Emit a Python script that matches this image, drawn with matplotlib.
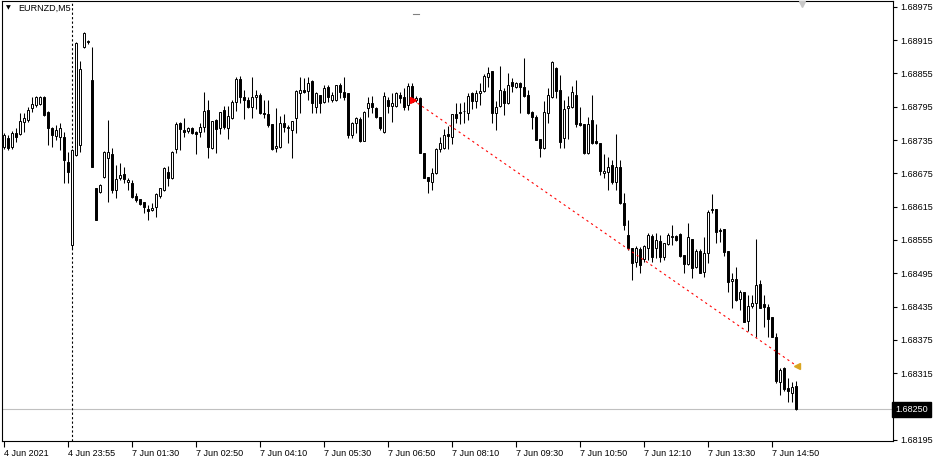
import numpy as np
import matplotlib
matplotlib.use('Agg')
import matplotlib.pyplot as plt
from matplotlib.lines import Line2D

# EURNZD M5, prices in points (1 point = 0.00001)
POINT = 0.00001

open_pts = [
    168722, 168739, 168722, 168748, 168746, 168767, 168771, 168793, 168798, 168800,
    168812, 168785, 168757, 168742, 168740, 168740, 168695, 168546, 168708, 168726,
    168902, 168911, 168843, 168649, 168641, 168668, 168703, 168710, 168645, 168667,
    168674, 168659, 168658, 168634, 168629, 168623, 168611, 168609, 168614, 168634,
    168645, 168677, 168667, 168719, 168766, 168753, 168751, 168757, 168749, 168749,
    168758, 168789, 168721, 168771, 168757, 168789, 168757, 168775, 168803, 168845,
    168812, 168807, 168794, 168812, 168816, 168784, 168782, 168764, 168721, 168722,
    168766, 168757, 168753, 168775, 168820, 168825, 168823, 168841, 168794, 168816,
    168803, 168830, 168807, 168807, 168834, 168821, 168820, 168744, 168766, 168773,
    168733, 168793, 168802, 168793, 168776, 168749, 168807, 168796, 168796, 168816,
    168812, 168798, 168832, 168807, 168811, 168712, 168668, 168659, 168676, 168719,
    168721, 168746, 168740, 168782, 168785, 168787, 168784, 168820, 168805, 168820,
    168823, 168848, 168859, 168784, 168796, 168823, 168802, 168839, 168830, 168838,
    168830, 168816, 168785, 168776, 168737, 168721, 168784, 168812, 168865, 168825,
    168739, 168793, 168794, 168816, 168766, 168764, 168712, 168771, 168733, 168730,
    168676, 168677, 168690, 168659, 168686, 168622, 168564, 168541, 168515, 168539,
    168521, 168541, 168562, 168541, 168553, 168524, 168548, 168560, 168562, 168566,
    168528, 168512, 168557, 168506, 168535, 168497, 168532, 168609, 168611, 168573,
    168575, 168535, 168481, 168485, 168449, 168461, 168409, 168436, 168442, 168476,
    168440, 168434, 168416, 168380, 168299, 168325, 168289, 168280, 168292,
]
high_pts = [
    168748, 168744, 168751, 168757, 168784, 168784, 168794, 168812, 168814, 168814,
    168814, 168787, 168758, 168762, 168766, 168749, 168713, 168719, 168911, 168877,
    168929, 168915, 168902, 168649, 168656, 168715, 168771, 168721, 168690, 168694,
    168686, 168667, 168663, 168640, 168629, 168623, 168618, 168622, 168640, 168649,
    168686, 168688, 168715, 168767, 168767, 168775, 168758, 168758, 168751, 168766,
    168821, 168807, 168769, 168773, 168785, 168796, 168796, 168807, 168848, 168850,
    168825, 168812, 168848, 168825, 168820, 168807, 168807, 168764, 168793, 168778,
    168782, 168762, 168769, 168825, 168848, 168847, 168848, 168843, 168821, 168816,
    168834, 168834, 168821, 168834, 168838, 168848, 168820, 168767, 168776, 168776,
    168787, 168812, 168814, 168794, 168776, 168821, 168812, 168820, 168821, 168821,
    168829, 168838, 168838, 168814, 168812, 168712, 168668, 168685, 168721, 168740,
    168755, 168760, 168782, 168802, 168802, 168803, 168820, 168821, 168825, 168838,
    168854, 168866, 168859, 168805, 168868, 168829, 168856, 168847, 168839, 168839,
    168883, 168825, 168787, 168780, 168737, 168805, 168829, 168877, 168866, 168852,
    168807, 168814, 168832, 168843, 168794, 168764, 168776, 168816, 168764, 168730,
    168710, 168704, 168699, 168746, 168699, 168640, 168591, 168541, 168544, 168542,
    168546, 168568, 168566, 168568, 168564, 168550, 168568, 168582, 168564, 168568,
    168528, 168586, 168557, 168539, 168539, 168560, 168609, 168638, 168611, 168577,
    168575, 168535, 168496, 168506, 168465, 168461, 168456, 168456, 168557, 168483,
    168456, 168440, 168416, 168388, 168325, 168326, 168307, 168299, 168301,
]
low_pts = [
    168719, 168717, 168719, 168731, 168744, 168749, 168767, 168785, 168794, 168798,
    168778, 168726, 168722, 168735, 168717, 168658, 168658, 168539, 168706, 168713,
    168901, 168908, 168686, 168591, 168640, 168667, 168623, 168640, 168631, 168663,
    168658, 168645, 168631, 168623, 168618, 168604, 168591, 168607, 168596, 168631,
    168643, 168652, 168665, 168712, 168717, 168740, 168748, 168746, 168710, 168740,
    168749, 168703, 168719, 168712, 168746, 168755, 168737, 168773, 168787, 168802,
    168773, 168793, 168775, 168791, 168782, 168775, 168758, 168717, 168713, 168721,
    168749, 168730, 168703, 168748, 168784, 168820, 168807, 168784, 168784, 168784,
    168802, 168803, 168803, 168805, 168811, 168807, 168739, 168739, 168748, 168731,
    168733, 168776, 168784, 168775, 168753, 168748, 168784, 168767, 168794, 168802,
    168789, 168789, 168803, 168803, 168712, 168667, 168640, 168645, 168674, 168713,
    168719, 168719, 168728, 168766, 168764, 168766, 168771, 168791, 168793, 168798,
    168821, 168830, 168766, 168753, 168794, 168780, 168800, 168821, 168829, 168784,
    168812, 168782, 168755, 168735, 168704, 168719, 168766, 168811, 168811, 168721,
    168721, 168737, 168793, 168758, 168760, 168710, 168710, 168728, 168728, 168672,
    168667, 168645, 168656, 168645, 168620, 168573, 168537, 168483, 168506, 168496,
    168515, 168519, 168515, 168523, 168515, 168519, 168546, 168546, 168553, 168524,
    168496, 168510, 168487, 168505, 168496, 168488, 168514, 168604, 168550, 168551,
    168526, 168461, 168433, 168445, 168429, 168407, 168391, 168433, 168380, 168433,
    168398, 168380, 168380, 168298, 168276, 168283, 168263, 168263, 168249,
]
close_pts = [
    168744, 168721, 168748, 168740, 168769, 168775, 168789, 168800, 168812, 168812,
    168780, 168757, 168744, 168753, 168757, 168699, 168677, 168717, 168910, 168863,
    168928, 168913, 168686, 168591, 168654, 168713, 168713, 168645, 168665, 168672,
    168665, 168663, 168632, 168627, 168620, 168614, 168607, 168613, 168638, 168649,
    168685, 168667, 168713, 168764, 168755, 168749, 168757, 168748, 168746, 168758,
    168787, 168722, 168769, 168755, 168785, 168758, 168778, 168803, 168845, 168812,
    168807, 168794, 168812, 168816, 168784, 168782, 168762, 168719, 168724, 168766,
    168758, 168758, 168769, 168823, 168825, 168821, 168838, 168802, 168820, 168802,
    168829, 168812, 168816, 168834, 168821, 168812, 168744, 168766, 168775, 168733,
    168785, 168802, 168794, 168776, 168757, 168814, 168796, 168802, 168820, 168811,
    168794, 168832, 168803, 168811, 168712, 168667, 168661, 168676, 168719, 168730,
    168744, 168742, 168782, 168775, 168784, 168788, 168814, 168805, 168820, 168823,
    168850, 168856, 168784, 168794, 168825, 168802, 168834, 168832, 168838, 168830,
    168814, 168784, 168776, 168735, 168721, 168785, 168816, 168875, 168823, 168731,
    168791, 168796, 168821, 168764, 168762, 168712, 168764, 168730, 168730, 168679,
    168679, 168686, 168659, 168686, 168622, 168582, 168541, 168514, 168541, 168510,
    168544, 168564, 168524, 168555, 168524, 168550, 168564, 168562, 168555, 168526,
    168512, 168560, 168505, 168535, 168496, 168532, 168605, 168611, 168569, 168571,
    168533, 168479, 168485, 168447, 168461, 168407, 168436, 168442, 168474, 168433,
    168434, 168413, 168380, 168301, 168321, 168287, 168283, 168290, 168250,
]

time_labels = ['4 Jun 2021', '4 Jun 23:55', '7 Jun 01:30', '7 Jun 02:50', '7 Jun 04:10',
               '7 Jun 05:30', '7 Jun 06:50', '7 Jun 08:10', '7 Jun 09:30', '7 Jun 10:50',
               '7 Jun 12:10', '7 Jun 13:30', '7 Jun 14:50']
label_bars = [0, 16, 32, 48, 64, 80, 96, 112, 128, 144, 160, 176, 192]
price_ticks = [1.68195, 1.68255, 1.68315, 1.68375, 1.68435, 1.68495, 1.68555,
               1.68615, 1.68675, 1.68735, 1.68795, 1.68855, 1.68915, 1.68975]
last_price = 1.68250
day_start_bar = 17
trade_bars = [102.25, 198.25]
trade_prices = [1.68807, 1.68328]

FONT = 'Liberation Sans'
FS = 6.5

o = np.array(open_pts) * POINT
h = np.array(high_pts) * POINT
l = np.array(low_pts) * POINT
c = np.array(close_pts) * POINT
x = np.arange(len(o))

W, H = 938, 457
fig = plt.figure(figsize=(W / 100, H / 100), dpi=100)
ax = fig.add_axes([2 / W, 16 / H, 891 / W, 440 / H])
ax.set_xlim(-0.5, 222.25)
ax.set_ylim(1.681932, 1.689852)

ax.axhline(last_price, color='#c0c0c0', lw=0.8, zorder=1)
ax.axvline(day_start_bar, color='black', ls=(0, (2, 2)), lw=0.8, zorder=1)

ax.vlines(x, l, h, color='black', lw=0.75, zorder=2)
up = c >= o
bottoms = np.minimum(o, c)
heights = np.maximum(np.abs(c - o), 0.3 * POINT)
ax.bar(x, heights, bottom=bottoms, width=0.5,
       color=np.where(up, 'white', 'black'), edgecolor='black', linewidth=0.7, zorder=3)

# trade history line
ax.plot(trade_bars, trade_prices, color='red', ls=(0, (2, 3)), lw=0.8, zorder=4)
ax.plot(trade_bars[0], trade_prices[0], marker='>', color='red', ms=4, zorder=5)
ax.plot(trade_bars[1], trade_prices[1], marker='<', color='#DAA520', ms=5, zorder=5)

for s in ax.spines.values():
    s.set_linewidth(0.8)
    s.set_color('black')

# the tick just above the last price sits under the price box, so its label is left blank
ax.yaxis.tick_right()
ax.set_yticks(price_ticks)
ylabels = ['%.5f' % p if abs(p - last_price) > 0.0001 else '' for p in price_ticks]
ax.set_yticklabels(ylabels, fontsize=FS, family=FONT)
ax.tick_params(axis='y', direction='out', length=3, width=0.8, pad=2)

ax.set_xticks(label_bars)
ax.set_xticklabels(time_labels, fontsize=FS, family=FONT, ha='left')
ax.tick_params(axis='x', direction='out', length=4, width=0.8, pad=2)

ax.text(1 + 2 / 891, last_price, '%.5f' % last_price, transform=ax.get_yaxis_transform(),
        color='white', fontsize=FS, family=FONT, va='center', ha='left', zorder=10, clip_on=False,
        bbox=dict(facecolor='black', edgecolor='black', boxstyle='square,pad=0.35'))

# header
fig.text(6 / W, 1 - 8 / H, '\u25bc', fontsize=4.5, va='center', ha='left')
fig.text(18 / W, 1 - 8 / H, 'EURNZD,M5', fontsize=FS, family=FONT, va='center', ha='left')
fig.add_artist(Line2D([413 / W, 419 / W], [1 - 14 / H, 1 - 14 / H], color='#808080', lw=0.8))
fig.add_artist(Line2D([802 / W], [1 - 4 / H], marker='v', color='#c8c8c8', ms=5, ls='none'))

fig.savefig('out.png', dpi=100)
